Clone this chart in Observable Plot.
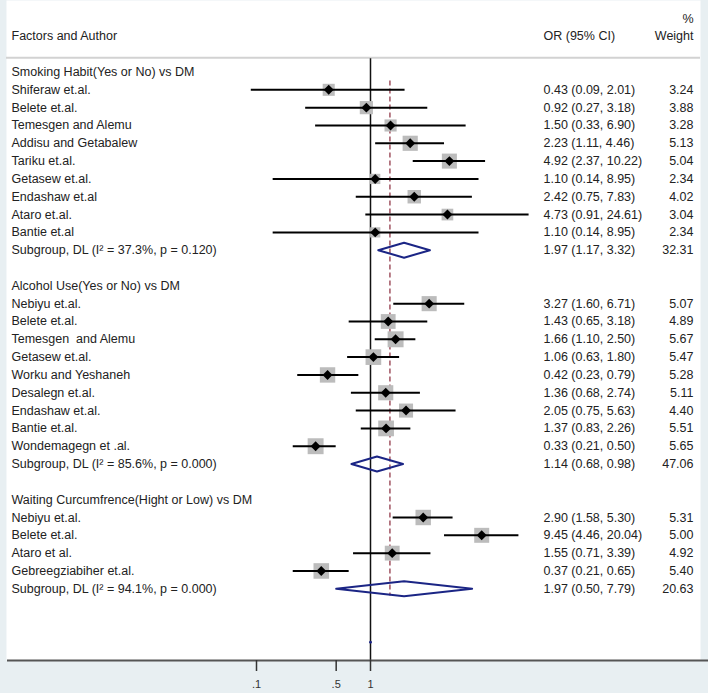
<!DOCTYPE html>
<html><head><meta charset="utf-8">
<script src="https://cdn.jsdelivr.net/npm/d3@7"></script>
<script src="https://cdn.jsdelivr.net/npm/@observablehq/plot@0.6"></script>
<style>
html,body{margin:0;padding:0;background:#fff;}
#chart svg{display:block;}
#chart text{white-space:pre;}
</style></head><body><div id="chart"></div>
<script>
// ---------- data ----------
const groupTitles = [
  "Smoking Habit(Yes or No) vs DM",
  "Alcohol Use(Yes or No) vs DM",
  "Waiting Curcumfrence(Hight or Low) vs DM"
];
const smokingAuthors = ["Shiferaw et.al.","Belete et.al.","Temesgen and Alemu","Addisu and Getabalew","Tariku et.al.","Getasew et.al.","Endashaw et.al","Ataro et.al.","Bantie et.al"];
const smokingOR     = [0.43, 0.92, 1.50, 2.23, 4.92, 1.10, 2.42, 4.73, 1.10];
const smokingLo     = [0.09, 0.27, 0.33, 1.11, 2.37, 0.14, 0.75, 0.91, 0.14];
const smokingHi     = [2.01, 3.18, 6.90, 4.46, 10.22, 8.95, 7.83, 24.61, 8.95];
const smokingWeight = [3.24, 3.88, 3.28, 5.13, 5.04, 2.34, 4.02, 3.04, 2.34];

const alcoholAuthors = ["Nebiyu et.al.","Belete et.al.","Temesgen  and Alemu","Getasew et.al.","Worku and Yeshaneh","Desalegn et.al.","Endashaw et.al.","Bantie et.al.","Wondemagegn et .al."];
const alcoholOR     = [3.27, 1.43, 1.66, 1.06, 0.42, 1.36, 2.05, 1.37, 0.33];
const alcoholLo     = [1.60, 0.65, 1.10, 0.63, 0.23, 0.68, 0.75, 0.83, 0.21];
const alcoholHi     = [6.71, 3.18, 2.50, 1.80, 0.79, 2.74, 5.63, 2.26, 0.50];
const alcoholWeight = [5.07, 4.89, 5.67, 5.47, 5.28, 5.11, 4.40, 5.51, 5.65];

const waistAuthors = ["Nebiyu et.al.","Belete et.al.","Ataro et al.","Gebreegziabiher et.al."];
const waistOR     = [2.90, 9.45, 1.55, 0.37];
const waistLo     = [1.58, 4.46, 0.71, 0.21];
const waistHi     = [5.30, 20.04, 3.39, 0.65];
const waistWeight = [5.31, 5.00, 4.92, 5.40];

const subgroupLabels = [
  "Subgroup, DL (I\u00B2 = 37.3%, p = 0.120)",
  "Subgroup, DL (I\u00B2 = 85.6%, p = 0.000)",
  "Subgroup, DL (I\u00B2 = 94.1%, p = 0.000)"
];
const subgroupOR      = [1.97, 1.14, 1.97];
const subgroupLo      = [1.17, 0.68, 0.50];
const subgroupHi      = [3.32, 0.98, 7.79];   // as printed
const subgroupHiDrawn = [3.32, 1.93, 7.79];   // diamond right tip as drawn
const subgroupWeight  = [32.31, 47.06, 20.63];

const overallOR = 1.48;
const tickValues = [0.1, 0.5, 1];
const tickLabels = [".1", ".5", "1"];
const headerLeft = "Factors and Author";
const headerCI = "OR (95% CI)";
const headerPct = "%";
const headerWeight = "Weight";

// ---------- table building ----------
const groups = [
  {authors: smokingAuthors, or: smokingOR, lo: smokingLo, hi: smokingHi, w: smokingWeight},
  {authors: alcoholAuthors, or: alcoholOR, lo: alcoholLo, hi: alcoholHi, w: alcoholWeight},
  {authors: waistAuthors, or: waistOR, lo: waistLo, hi: waistHi, w: waistWeight}
];
const f2 = v => v.toFixed(2);
const headers = [], studies = [], subs = [];
let r = 0;
groups.forEach((g, gi) => {
  headers.push({row: r, label: groupTitles[gi]}); r++;
  g.authors.forEach((a, i) => {
    studies.push({row: r, label: a, or: g.or[i], lo: g.lo[i], hi: g.hi[i], w: g.w[i],
      ci: `${f2(g.or[i])} (${f2(g.lo[i])}, ${f2(g.hi[i])})`, wt: f2(g.w[i])});
    r++;
  });
  subs.push({row: r, g: gi, label: subgroupLabels[gi], or: subgroupOR[gi], lo: subgroupLo[gi],
    hi: subgroupHiDrawn[gi], w: subgroupWeight[gi],
    ci: `${f2(subgroupOR[gi])} (${f2(subgroupLo[gi])}, ${f2(subgroupHi[gi])})`, wt: f2(subgroupWeight[gi])});
  r++;
  r++; // blank row
});
const overallRow = r + 1;
const halfH = 0.42;
const diamondPts = subs.flatMap(s => [
  {g: s.g, x: s.lo, y: s.row}, {g: s.g, x: s.or, y: s.row - halfH},
  {g: s.g, x: s.hi, y: s.row}, {g: s.g, x: s.or, y: s.row + halfH},
  {g: s.g, x: s.lo, y: s.row}
]);
const labelRows = [...headers, ...studies, ...subs];
const valueRows = [...studies, ...subs];
const topHeaders = [{row: -2, label: headerLeft}];
const ciHeaders = [{row: -2, label: headerCI}];
const wHeaders = [{row: -3, label: headerPct}, {row: -2, label: headerWeight}];
const tickRows = tickValues.map((v, i) => ({x: v, label: tickLabels[i]}));

// ---------- layout ----------
const W = 708, H = 693, mL = 6, mR = 8, mB = 33;
const x1px = 370, decade = 114;
const xDomain = [10 ** ((mL - x1px) / decade), 10 ** ((W - mR - x1px) / decade)];
const row0 = 71.5, step = 17.82;
const yDomain = [(0 - row0) / step, (H - mB - row0) / step];

const diamondSymbol = {
  draw(ctx, size) {
    const h = Math.sqrt(size) * 0.7;
    ctx.moveTo(0, -h); ctx.lineTo(h, 0); ctx.lineTo(0, h); ctx.lineTo(-h, 0); ctx.closePath();
  }
};
const navy = "#1b2585";
const txt = "#222";

const chart = Plot.plot({
  width: W, height: H,
  marginLeft: mL, marginRight: mR, marginTop: 0, marginBottom: mB,
  style: {fontFamily: "'Liberation Sans', Arial, sans-serif", fontSize: "12.5px", background: "#e8eff2", overflow: "visible"},
  x: {type: "log", domain: xDomain, range: [mL, W - mR], axis: null},
  y: {domain: yDomain, range: [0, H - mB], axis: null},
  r: {type: "sqrt", domain: [0, 1], range: [0, 6.7 / Math.sqrt(Math.PI)], clamp: false},
  marks: [
    Plot.frame({fill: "white", stroke: "none"}),
    Plot.ruleY([-0.8], {stroke: "#d2d2d2", strokeWidth: 2}),
    Plot.ruleX([1], {y1: -0.75, y2: yDomain[1], stroke: "#111", strokeWidth: 1.5}),
    Plot.ruleX([overallOR], {y1: 0.5, y2: 29.4, stroke: "#b0707c", strokeWidth: 1.8, strokeDasharray: "5,3"}),
    Plot.dot(studies, {x: "or", y: "row", r: "w", symbol: "square", fill: "#bcbcbc", stroke: "none"}),
    Plot.ruleY(studies, {y: "row", x1: "lo", x2: "hi", stroke: "#000", strokeWidth: 2}),
    Plot.dot(studies, {x: "or", y: "row", r: 4, symbol: diamondSymbol, fill: "#000", stroke: "none"}),
    Plot.line(diamondPts, {x: "x", y: "y", z: "g", stroke: navy, strokeWidth: 2, curve: "linear"}),
    Plot.dot([{x: 1, row: overallRow}], {x: "x", y: "row", r: 1.4, fill: navy, stroke: "none"}),
    Plot.text(labelRows, {y: "row", text: "label", frameAnchor: "left", textAnchor: "start", dx: 5, fill: txt}),
    Plot.text(topHeaders, {y: "row", text: "label", frameAnchor: "left", textAnchor: "start", dx: 5, fill: txt}),
    Plot.text(valueRows, {y: "row", text: "ci", frameAnchor: "left", textAnchor: "start", dx: 537, fill: txt}),
    Plot.text(ciHeaders, {y: "row", text: "label", frameAnchor: "left", textAnchor: "start", dx: 537, fill: txt}),
    Plot.text(valueRows, {y: "row", text: "wt", frameAnchor: "right", textAnchor: "end", dx: -7, fill: txt}),
    Plot.text(wHeaders, {y: "row", text: "label", frameAnchor: "right", textAnchor: "end", dx: -7, fill: txt}),
    Plot.ruleY([yDomain[1]], {stroke: "#555", strokeWidth: 2, insetLeft: 1, insetRight: -8}),
    Plot.axisX(tickValues, {anchor: "bottom", tickFormat: () => "", tickSize: 11, stroke: "#333", strokeWidth: 1.5, label: null}),
    Plot.text(tickRows, {x: "x", text: "label", frameAnchor: "bottom", lineAnchor: "middle", dy: 24, fontSize: 11, fill: "#333"})
  ]
});
document.getElementById("chart").appendChild(chart);
</script></body></html>
